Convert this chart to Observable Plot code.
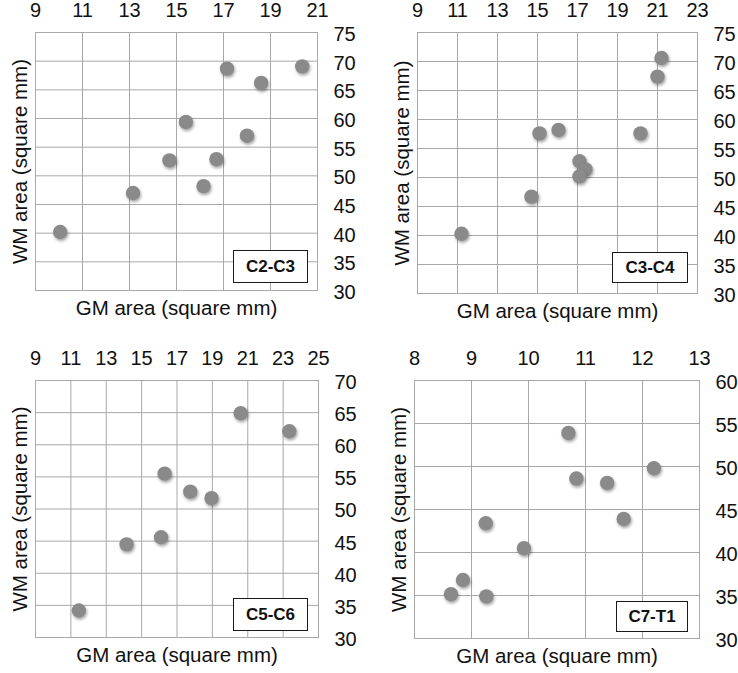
<!DOCTYPE html>
<html><head><meta charset="utf-8">
<script src="https://cdn.jsdelivr.net/npm/d3@7"></script>
<script src="https://cdn.jsdelivr.net/npm/@observablehq/plot@0.6"></script>
<style>
body{margin:0;background:#fff;}
#chart{position:relative;width:738px;height:673px;font-family:"Liberation Sans",Arial,sans-serif;}
.panel{position:absolute;}
.panel svg{display:block;}
.tag{position:absolute;box-sizing:border-box;border:1.5px solid #1a1a1a;background:#fff;display:flex;align-items:center;justify-content:center;font-weight:bold;font-size:17px;color:#111;}
g[aria-label="dot"] circle{filter:drop-shadow(1px 2px 1.5px rgba(0,0,0,0.35));}
</style></head><body><div id="chart"></div>
<script>
const xLabel = "GM area (square mm)";
const yLabel = "WM area (square mm)";

const c2c3_gm = [10.05, 13.15, 14.7, 15.4, 16.15, 16.7, 17.15, 18.0, 18.6, 20.35];
const c2c3_wm = [40.2, 47.0, 52.7, 59.4, 48.2, 52.9, 68.7, 57.0, 66.2, 69.1];
const c2c3_xTicks = [9, 11, 13, 15, 17, 19, 21];
const c2c3_yTicks = [30, 35, 40, 45, 50, 55, 60, 65, 70, 75];

const c3c4_gm = [11.2, 14.7, 15.1, 16.05, 17.1, 17.4, 17.1, 20.15, 21.0, 21.2];
const c3c4_wm = [40.3, 46.7, 57.6, 58.2, 52.8, 51.4, 50.2, 57.6, 67.4, 70.6];
const c3c4_xTicks = [9, 11, 13, 15, 17, 19, 21, 23];
const c3c4_yTicks = [30, 35, 40, 45, 50, 55, 60, 65, 70, 75];

const c5c6_gm = [11.45, 14.15, 16.1, 16.3, 17.75, 18.95, 20.6, 23.35];
const c5c6_wm = [34.2, 44.5, 45.6, 55.5, 52.7, 51.7, 64.9, 62.1];
const c5c6_xTicks = [9, 11, 13, 15, 17, 19, 21, 23, 25];
const c5c6_yTicks = [30, 35, 40, 45, 50, 55, 60, 65, 70];

const c7t1_gm = [8.64, 8.85, 9.26, 9.25, 9.92, 10.7, 10.84, 11.38, 11.67, 12.2];
const c7t1_wm = [35.15, 36.8, 34.9, 43.4, 40.5, 53.9, 48.6, 48.1, 43.9, 49.8];
const c7t1_xTicks = [8, 9, 10, 11, 12, 13];
const c7t1_yTicks = [30, 35, 40, 45, 50, 55, 60];

const panels = [
  {tag: "C2-C3", gm: c2c3_gm, wm: c2c3_wm, xTicks: c2c3_xTicks, yTicks: c2c3_yTicks,
   left: 0, top: 0, width: 369, height: 330, m: [35, 52, 32, 40], box: [9, 7, 75, 33]},
  {tag: "C3-C4", gm: c3c4_gm, wm: c3c4_wm, xTicks: c3c4_xTicks, yTicks: c3c4_yTicks,
   left: 369, top: 0, width: 369, height: 330, m: [48, 41, 32, 37], box: [9, 10, 76, 31]},
  {tag: "C5-C6", gm: c5c6_gm, wm: c5c6_wm, xTicks: c5c6_xTicks, yTicks: c5c6_yTicks,
   left: 0, top: 330, width: 369, height: 343, m: [35, 51, 50, 36], box: [10, 6, 75, 33]},
  {tag: "C7-T1", gm: c7t1_gm, wm: c7t1_wm, xTicks: c7t1_xTicks, yTicks: c7t1_yTicks,
   left: 369, top: 330, width: 369, height: 343, m: [45, 39, 50, 35], box: [11, 6, 72, 31]}
];

const font = '"Liberation Sans", Arial, sans-serif';
const gridColor = "#a8a8a8";
const fmt = d => String(d);
const chart = document.getElementById("chart");

for (const p of panels) {
  const pts = p.gm.map((g, i) => ({gm: g, wm: p.wm[i]}));
  const svg = Plot.plot({
    width: p.width, height: p.height,
    marginLeft: p.m[0], marginRight: p.m[1], marginTop: p.m[2], marginBottom: p.m[3],
    style: {fontFamily: font, fontSize: "20px", color: "#111", background: "transparent", overflow: "visible"},
    x: {domain: [p.xTicks[0], p.xTicks[p.xTicks.length - 1]]},
    y: {domain: [p.yTicks[0], p.yTicks[p.yTicks.length - 1]]},
    marks: [
      Plot.gridX({ticks: p.xTicks, stroke: gridColor, strokeOpacity: 1}),
      Plot.gridY({ticks: p.yTicks, stroke: gridColor, strokeOpacity: 1}),
      Plot.frame({stroke: gridColor}),
      Plot.axisX({ticks: p.xTicks, tickFormat: fmt, anchor: "top", tickSize: 0, tickPadding: 16, label: null, fontSize: 20}),
      Plot.axisY({ticks: p.yTicks, tickFormat: fmt, anchor: "right", tickSize: 0, tickPadding: 16, label: null, fontSize: 20, dy: 2}),
      Plot.text([xLabel], {text: d => d, frameAnchor: "bottom", textAnchor: "middle", lineAnchor: "bottom", dy: 24, fontSize: 20.5}),
      Plot.text([yLabel], {text: d => d, frameAnchor: "left", textAnchor: "middle", rotate: -90, lineAnchor: "bottom", dx: -9, fontSize: 20.5}),
      Plot.dot(pts, {x: "gm", y: "wm", r: 7.2, fill: "#8a8a8a"})
    ]
  });
  const div = document.createElement("div");
  div.className = "panel";
  div.style.left = p.left + "px";
  div.style.top = p.top + "px";
  div.style.width = p.width + "px";
  div.style.height = p.height + "px";
  div.appendChild(svg);
  const tag = document.createElement("div");
  tag.className = "tag";
  tag.textContent = p.tag;
  tag.style.right = (p.m[1] + p.box[0]) + "px";
  tag.style.bottom = (p.m[3] + p.box[1]) + "px";
  tag.style.width = p.box[2] + "px";
  tag.style.height = p.box[3] + "px";
  div.appendChild(tag);
  chart.appendChild(div);
}
</script></body></html>
